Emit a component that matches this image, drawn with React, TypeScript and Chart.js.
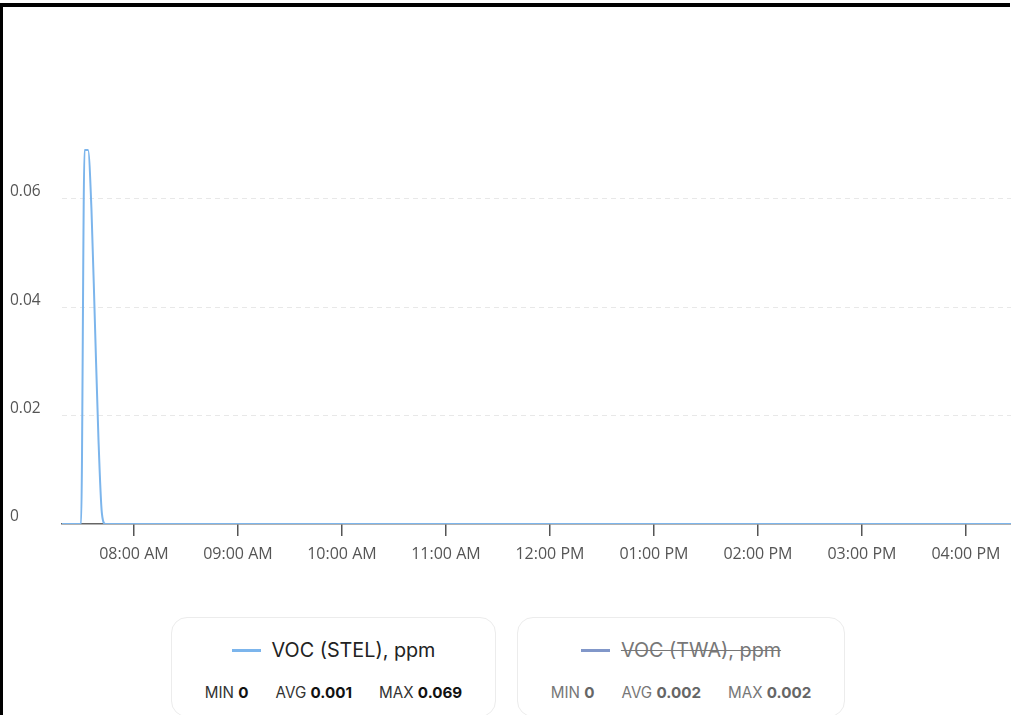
import React, { useEffect, useRef } from "react";
import { Chart, registerables } from "chart.js";

Chart.register(...registerables);

// Time in minutes since midnight
const stelTimes = [438, 449.5, 451.5, 453.5, 455.5, 457.5, 459.5, 461.5, 463.5, 600, 800, 990];
const stelValues = [0, 0, 0.069, 0.069, 0.058, 0.037, 0.016, 0.002, 0, 0, 0, 0];
const twaTimes = [438, 460, 600, 800, 990];
const twaValues = [0, 0.002, 0.002, 0.002, 0.002];

const xTickMinutes = [480, 540, 600, 660, 720, 780, 840, 900, 960];
const yTickValues = [0, 0.02, 0.04, 0.06];

const legendItems = [
  { name: "VOC (STEL), ppm", color: "#7cb5ec", min: "0", avg: "0.001", max: "0.069", hidden: false },
  { name: "VOC (TWA), ppm", color: "#8197c9", min: "0", avg: "0.002", max: "0.002", hidden: true },
];

function fmtTime(m: number): string {
  const h24 = Math.floor(m / 60);
  const mm = Math.round(m - h24 * 60);
  const ampm = h24 >= 12 ? "PM" : "AM";
  let h = h24 % 12;
  if (h === 0) h = 12;
  return `${String(h).padStart(2, "0")}:${String(mm).padStart(2, "0")} ${ampm}`;
}

export default function App() {
  const ref = useRef<HTMLCanvasElement | null>(null);

  useEffect(() => {
    document.body.style.margin = "0";
    const ctx = ref.current!;
    const chart = new Chart(ctx, {
      type: "line",
      data: {
        datasets: [
          {
            label: legendItems[0].name,
            data: stelTimes.map((t, i) => ({ x: t, y: stelValues[i] })),
            borderColor: legendItems[0].color,
            borderWidth: 2,
            pointRadius: 0,
            cubicInterpolationMode: "monotone",
            fill: false,
          },
          {
            label: legendItems[1].name,
            data: twaTimes.map((t, i) => ({ x: t, y: twaValues[i] })),
            borderColor: legendItems[1].color,
            borderWidth: 2,
            pointRadius: 0,
            hidden: true,
            fill: false,
          },
        ],
      },
      options: {
        responsive: false,
        animation: false,
        layout: { padding: { left: 10, top: 105, right: 0, bottom: 0 } },
        plugins: { legend: { display: false }, tooltip: { enabled: false } },
        scales: {
          x: {
            type: "linear",
            min: 438.5,
            max: 986,
            afterBuildTicks: (s: any) => {
              s.ticks = xTickMinutes.map((v) => ({ value: v }));
            },
            afterFit: (s: any) => {
              s.height = 50;
            },
            grid: {
              drawOnChartArea: false,
              drawTicks: true,
              tickLength: 12,
              color: "#555",
              lineWidth: 1.5,
            },
            border: { display: true, color: "#666", width: 1.5 },
            ticks: {
              autoSkip: false,
              maxRotation: 0,
              padding: 9,
              color: "#555",
              font: { family: "'Open Sans', sans-serif", size: 16 },
              callback: (v: any) => fmtTime(Number(v)),
            },
          },
          y: {
            min: 0,
            max: 0.076,
            afterBuildTicks: (s: any) => {
              s.ticks = yTickValues.map((v) => ({ value: v }));
            },
            afterFit: (s: any) => {
              s.width = 52;
            },
            border: { display: false, dash: [5, 4] },
            grid: {
              drawTicks: false,
              color: (c: any) => (c.tick && c.tick.value === 0 ? "rgba(0,0,0,0)" : "#e8e8e8"),
              lineWidth: 1,
            },
            ticks: {
              crossAlign: "far",
              labelOffset: -7,
              padding: 0,
              color: "#555",
              font: { family: "'Open Sans', sans-serif", size: 15.5 },
              callback: (v: any) => String(Number(v)),
            },
          },
        },
      },
    } as any);
    return () => chart.destroy();
  }, []);

  const box = (it: typeof legendItems[number], left: number, width: number) => (
    <div
      key={it.name}
      style={{
        position: "absolute",
        left,
        top: 617,
        width,
        height: 100,
        boxSizing: "border-box",
        border: "1px solid #ececec",
        borderRadius: 16,
        background: "#fff",
        fontFamily: "Inter, 'Liberation Sans', Arial, sans-serif",
      }}
    >
      <div
        style={{
          position: "absolute",
          top: 20,
          left: 0,
          right: 0,
          display: "flex",
          justifyContent: "center",
          alignItems: "center",
          height: 24,
        }}
      >
        <span style={{ display: "inline-block", width: 29, height: 3, background: it.color, marginRight: 11 }} />
        <span
          style={{
            fontSize: 19.8,
            color: it.hidden ? "#777" : "#222",
            textDecoration: it.hidden ? "line-through" : "none",
          }}
        >
          {it.name}
        </span>
      </div>
      <div
        style={{
          position: "absolute",
          top: 65,
          left: 0,
          right: 0,
          display: "flex",
          justifyContent: "center",
          fontSize: 15.2,
          color: it.hidden ? "#777" : "#333",
          gap: 27,
        }}
      >
        <span>
          MIN <b style={{ color: it.hidden ? "#666" : "#111" }}>{it.min}</b>
        </span>
        <span>
          AVG <b style={{ color: it.hidden ? "#666" : "#111" }}>{it.avg}</b>
        </span>
        <span>
          MAX <b style={{ color: it.hidden ? "#666" : "#111" }}>{it.max}</b>
        </span>
      </div>
    </div>
  );

  return (
    <div style={{ position: "relative", width: 1011, height: 715, overflow: "hidden", background: "#fff" }}>
      <div style={{ position: "absolute", left: 0, top: 3, width: 1010, height: 4, background: "#000" }} />
      <div style={{ position: "absolute", left: 0, top: 3, width: 3, height: 712, background: "#000" }} />
      <canvas ref={ref} width={1011} height={567} style={{ position: "absolute", left: 0, top: 7 }} />
      {box(legendItems[0], 171, 325)}
      {box(legendItems[1], 517, 328)}
    </div>
  );
}
